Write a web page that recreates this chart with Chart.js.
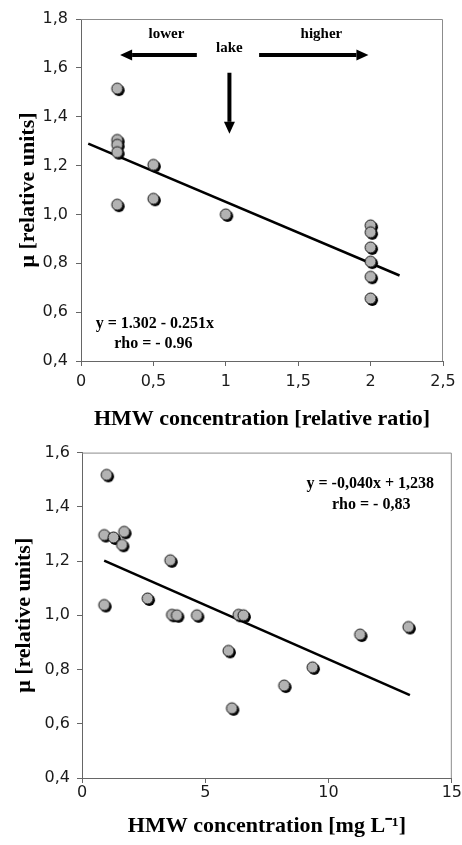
<!DOCTYPE html>
<html>
<head>
<meta charset="utf-8">
<script src="https://cdn.jsdelivr.net/npm/chart.js@4.4.1/dist/chart.umd.min.js"></script>
<style>
  html, body { margin: 0; padding: 0; background: #fff; }
  #wrap { width: 462px; height: 845px; overflow: hidden; }
  canvas { display: block; }
</style>
</head>
<body>
<div id="wrap">
  <canvas id="ratioChart" width="462" height="436"></canvas>
  <canvas id="concChart" width="462" height="409"></canvas>
</div>
<script>
// top panel: HMW as relative ratio
const ratioX = [0.25, 0.25, 0.25, 0.25, 0.25, 0.5, 0.5, 1, 2, 2, 2, 2, 2, 2];
const ratioMu = [1.515, 1.305, 1.285, 1.255, 1.04, 1.203, 1.064, 1.0, 0.955, 0.927, 0.865, 0.807, 0.745, 0.656];
const ratioFitX = [0.05, 2.2];
const ratioFitMu = [1.29, 0.75];

// bottom panel: HMW in mg/L
const concX = [1.0, 0.9, 1.28, 1.71, 1.62, 0.9, 3.58, 2.66, 3.65, 3.85, 4.66, 6.35, 6.55, 5.94, 6.08, 8.2, 9.35, 11.28, 13.24];
const concMu = [1.518, 1.296, 1.287, 1.308, 1.26, 1.038, 1.203, 1.062, 1.002, 1.0, 1.0, 1.002, 1.0, 0.869, 0.657, 0.741, 0.808, 0.929, 0.957];
const concFitX = [0.9, 13.3];
const concFitMu = [1.202, 0.706];

const serif = "'Liberation Serif', 'Times New Roman', serif";
const sans = "'DejaVu Sans', Verdana, sans-serif";

// grey dot with a black drop shadow, like the original
function makeDot() {
    const c = document.createElement('canvas');
    c.width = 19; c.height = 19;
    const g = c.getContext('2d');
    g.fillStyle = '#000';
    g.beginPath(); g.arc(11.2, 11.2, 5.7, 0, Math.PI * 2); g.fill();
    g.fillStyle = '#b3b3b3';
    g.strokeStyle = '#111';
    g.lineWidth = 1;
    g.beginPath(); g.arc(9.5, 9.5, 5.5, 0, Math.PI * 2); g.fill(); g.stroke();
    return c;
}
const dot = makeDot();

function pairs(xs, ys) {
    return xs.map((x, i) => ({ x: x, y: ys[i] }));
}

function commaNum(v) {
    return String(v).replace('.', ',');
}

// grey frame on top/right of the plot area
const framePlugin = {
    id: 'frame',
    beforeDatasetsDraw(chart) {
        const { ctx, chartArea: a } = chart;
        ctx.save();
        ctx.strokeStyle = '#8c8c8c';
        ctx.lineWidth = 1;
        ctx.beginPath();
        ctx.moveTo(a.left, a.top + 0.5);
        ctx.lineTo(a.right - 0.5, a.top + 0.5);
        ctx.lineTo(a.right - 0.5, a.bottom);
        ctx.stroke();
        ctx.restore();
    }
};

// text labels and arrows placed in data units
const notesPlugin = {
    id: 'notes',
    afterDatasetsDraw(chart, args, opts) {
        const { ctx, scales: { x, y } } = chart;
        ctx.save();
        (opts.arrows || []).forEach(a => {
            const x1 = x.getPixelForValue(a.x1), y1 = y.getPixelForValue(a.y1);
            const x2 = x.getPixelForValue(a.x2), y2 = y.getPixelForValue(a.y2);
            const ang = Math.atan2(y2 - y1, x2 - x1);
            const head = 12, half = 5.5;
            const bx = x2 - head * Math.cos(ang), by = y2 - head * Math.sin(ang);
            ctx.strokeStyle = '#000';
            ctx.lineWidth = 4;
            ctx.beginPath(); ctx.moveTo(x1, y1); ctx.lineTo(bx, by); ctx.stroke();
            ctx.fillStyle = '#000';
            ctx.beginPath();
            ctx.moveTo(x2, y2);
            ctx.lineTo(bx + half * Math.sin(ang), by - half * Math.cos(ang));
            ctx.lineTo(bx - half * Math.sin(ang), by + half * Math.cos(ang));
            ctx.closePath();
            ctx.fill();
        });
        ctx.fillStyle = '#000';
        ctx.textAlign = 'center';
        ctx.textBaseline = 'middle';
        (opts.texts || []).forEach(t => {
            ctx.font = 'bold ' + t.size + 'px ' + serif;
            ctx.fillText(t.text, x.getPixelForValue(t.x), y.getPixelForValue(t.y));
        });
        ctx.restore();
    }
};

function axis(min, max, step, fmt, title, titlePad, tickPad, fitSize, isY) {
    return {
        type: 'linear',
        min: min,
        max: max,
        ticks: {
            stepSize: step,
            callback: fmt,
            font: { family: sans, size: 16 },
            color: '#1a1a1a',
            padding: tickPad
        },
        grid: { drawOnChartArea: false, tickLength: 5, color: '#666' },
        border: { color: '#666', width: 1 },
        title: {
            display: true,
            text: title,
            color: '#000',
            font: { family: serif, size: 22, weight: 'bold' },
            padding: titlePad
        },
        afterFit(s) {
            if (isY) s.width = fitSize; else s.height = fitSize;
        }
    };
}

function makeChart(id, pts, fit, xAxis, yAxis, pad, notes) {
    return new Chart(document.getElementById(id), {
        type: 'scatter',
        data: {
            datasets: [{
                data: fit,
                showLine: true,
                borderColor: '#000',
                borderWidth: 2.5,
                pointRadius: 0,
                order: 2
            }, {
                data: pts,
                pointStyle: dot,
                pointRadius: 6,
                order: 1
            }]
        },
        options: {
            responsive: false,
            animation: false,
            layout: { padding: pad },
            plugins: {
                legend: { display: false },
                tooltip: { enabled: false },
                notes: notes
            },
            scales: { x: xAxis, y: yAxis }
        },
        plugins: [framePlugin, notesPlugin]
    });
}

makeChart('ratioChart',
    pairs(ratioX, ratioMu),
    pairs(ratioFitX, ratioFitMu),
    axis(0, 2.5, 0.5, v => commaNum(v), 'HMW concentration [relative ratio]', { top: 0, bottom: 3 }, 6, 75, false),
    axis(0.4, 1.8, 0.2, v => v.toFixed(1).replace('.', ','), 'μ [relative units]', { top: 15, bottom: 0 }, 8, 81, true),
    { left: 0, top: 19, right: 19, bottom: 0 },
    {
        arrows: [
            { x1: 0.8, y1: 1.653, x2: 0.27, y2: 1.653 },
            { x1: 1.23, y1: 1.653, x2: 1.985, y2: 1.653 },
            { x1: 1.025, y1: 1.58, x2: 1.025, y2: 1.33 }
        ],
        texts: [
            { text: 'lower', x: 0.59, y: 1.74, size: 15 },
            { text: 'lake', x: 1.025, y: 1.68, size: 15 },
            { text: 'higher', x: 1.66, y: 1.74, size: 15 },
            { text: 'y = 1.302 - 0.251x', x: 0.51, y: 0.553, size: 16 },
            { text: 'rho = - 0.96', x: 0.5, y: 0.47, size: 16 }
        ]
    }
);

makeChart('concChart',
    pairs(concX, concMu),
    pairs(concFitX, concFitMu),
    axis(0, 15, 5, v => commaNum(v), 'HMW concentration [mg L⁻¹]', { top: 0, bottom: 5 }, 0, 67, false),
    axis(0.4, 1.6, 0.2, v => v.toFixed(1).replace('.', ','), 'μ [relative units]', { top: 11, bottom: 0 }, 7, 82, true),
    { left: 0, top: 11, right: 10, bottom: 0 },
    {
        texts: [
            { text: 'y = -0,040x + 1,238', x: 11.69, y: 1.483, size: 16 },
            { text: 'rho = - 0,83', x: 11.73, y: 1.407, size: 16 }
        ]
    }
);
</script>
</body>
</html>
